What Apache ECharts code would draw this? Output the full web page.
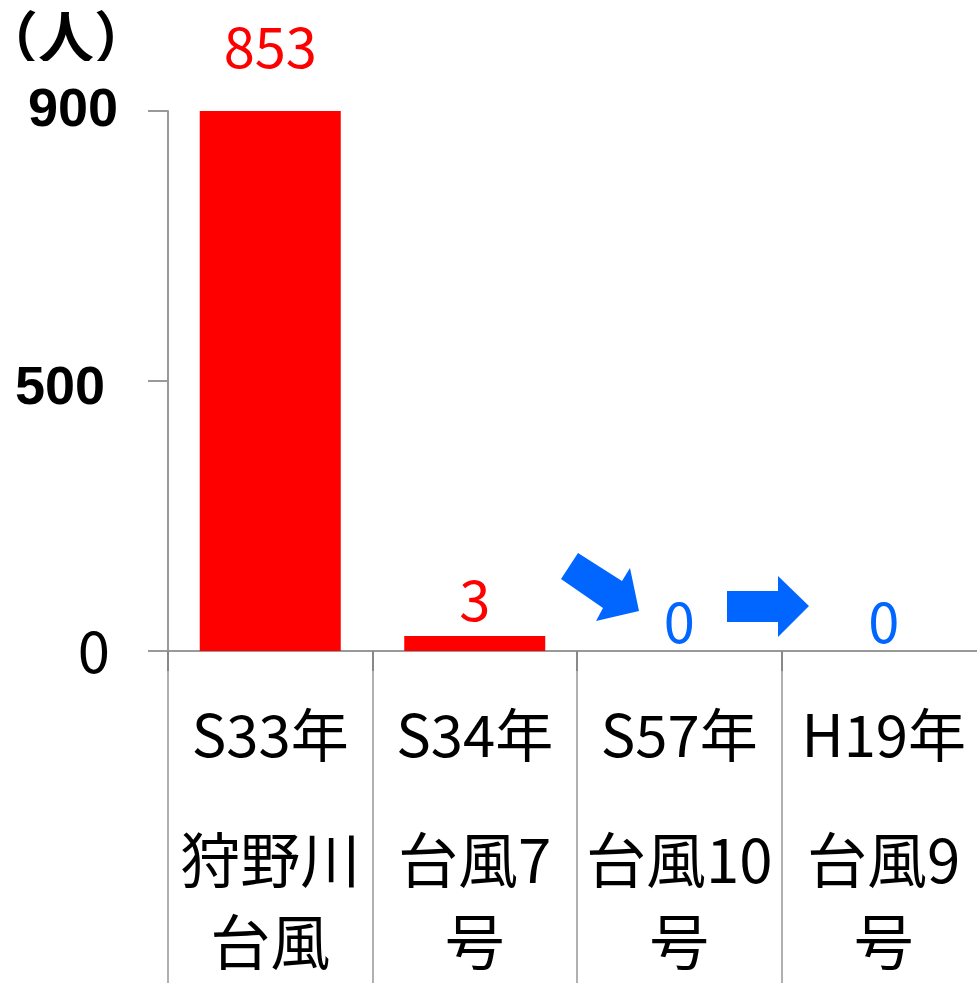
<!DOCTYPE html>
<html>
<head>
<meta charset="utf-8">
<script src="https://cdn.jsdelivr.net/npm/echarts@6/dist/echarts.min.js"></script>
<style>
  html, body { margin: 0; padding: 0; background: #fff; }
  #chart { width: 977px; height: 983px; }
</style>
</head>
<body>
<div id="chart"></div>
<script>
// categories (two-part x labels)
const years = ['S33年', 'S34年', 'S57年', 'H19年'];
const names = [['狩野川', '台風'], ['台風7', '号'], ['台風10', '号'], ['台風9', '号']];
// deaths shown above the bars
const barLabels = [853, 3, 0, 0];
// bar heights as drawn, in steps of the (non linear) y axis ticks
const barLevels = [2, 0.056, 0, 0];
// y tick labels, one per step
const yTicks = ['0', '500', '900'];

const RED = '#ff0000';
const BLUE = '#0066ff';
const GREY = '#999999';
const JP = '"Noto Sans CJK JP", "Noto Sans", sans-serif';

// per bar label look
const labelLook = [
  { color: RED, distance: 36 },
  { color: RED, distance: 8 },
  { color: BLUE, distance: 1 },
  { color: BLUE, distance: 1 }
];

const chart = echarts.init(document.getElementById('chart'));

const option = {
  animation: false,
  // plot runs a little past the right edge, like the original
  grid: { left: 168, top: 111, width: 818, height: 540, outerBoundsMode: 'none' },
  xAxis: [{
    type: 'category',
    data: years,
    axisLine: { show: true, lineStyle: { color: GREY, width: 2 } },
    axisTick: { show: true, interval: 0, length: 332, lineStyle: { color: '#b0b0b0', width: 2 } },
    axisLabel: {
      interval: 0,
      margin: 0,
      formatter: function (v, i) {
        return '{y|' + v + '}\n' + names[i].map(s => '{n|' + s + '}').join('\n');
      },
      rich: {
        y: { fontFamily: JP, fontSize: 58, color: '#000', lineHeight: 168 },
        n: { fontFamily: JP, fontSize: 60, color: '#000', lineHeight: 82 }
      }
    }
  }, {
    type: 'category',
    position: 'bottom',
    data: years,
    axisLine: { show: false },
    axisTick: { show: true, interval: 0, length: 20, lineStyle: { color: '#888', width: 2 } },
    axisLabel: { show: false }
  }],
  yAxis: {
    type: 'value',
    min: 0,
    max: 2,
    interval: 1,
    splitLine: { show: false },
    axisLine: { show: true, lineStyle: { color: GREY, width: 2 } },
    axisTick: { show: true, length: 20, lineStyle: { color: GREY, width: 2 } },
    axisLabel: {
      margin: 0,
      align: 'right',
      formatter: v => '{t' + v + '|' + yTicks[v] + '}',
      rich: {
        t0: { fontFamily: JP, fontSize: 58, color: '#000', padding: [0, 58, 0, 0] },
        t1: { fontFamily: '"Liberation Sans", Arial, sans-serif', fontWeight: 'bold', fontSize: 54, color: '#000', padding: [16, 63, 0, 0] },
        t2: { fontFamily: '"Liberation Sans", Arial, sans-serif', fontWeight: 'bold', fontSize: 54, color: '#000', padding: [0, 50, 0, 0] }
      }
    }
  },
  series: [{
    type: 'bar',
    barWidth: 141,
    itemStyle: { color: RED },
    data: barLevels.map((v, i) => ({
      value: v,
      label: {
        show: true,
        position: 'top',
        distance: labelLook[i].distance,
        color: labelLook[i].color,
        fontFamily: JP,
        fontSize: 56,
        formatter: () => String(barLabels[i])
      }
    }))
  }],
  graphic: [
    {
      type: 'text',
      x: 66, y: 37,
      style: { text: '（人）', fontFamily: JP, fontSize: 56, fontWeight: 'bold', fill: '#000', textAlign: 'center', textVerticalAlign: 'middle' }
    },
    {
      type: 'rect',
      shape: { x: 0, y: 61, width: 150, height: 22 },
      style: { fill: '#fff' },
      z: 100
    },
    {
      type: 'polygon',
      shape: { points: [[578, 553], [622, 581], [630, 568], [639, 611], [596, 621], [603, 608], [561, 579]] },
      style: { fill: BLUE }
    },
    {
      type: 'polygon',
      shape: { points: [[727, 591], [778, 591], [778, 576], [809, 606], [778, 637], [778, 622], [727, 622]] },
      style: { fill: BLUE }
    }
  ]
};

chart.setOption(option);
window.onresize = () => chart.resize();
</script>
</body>
</html>
